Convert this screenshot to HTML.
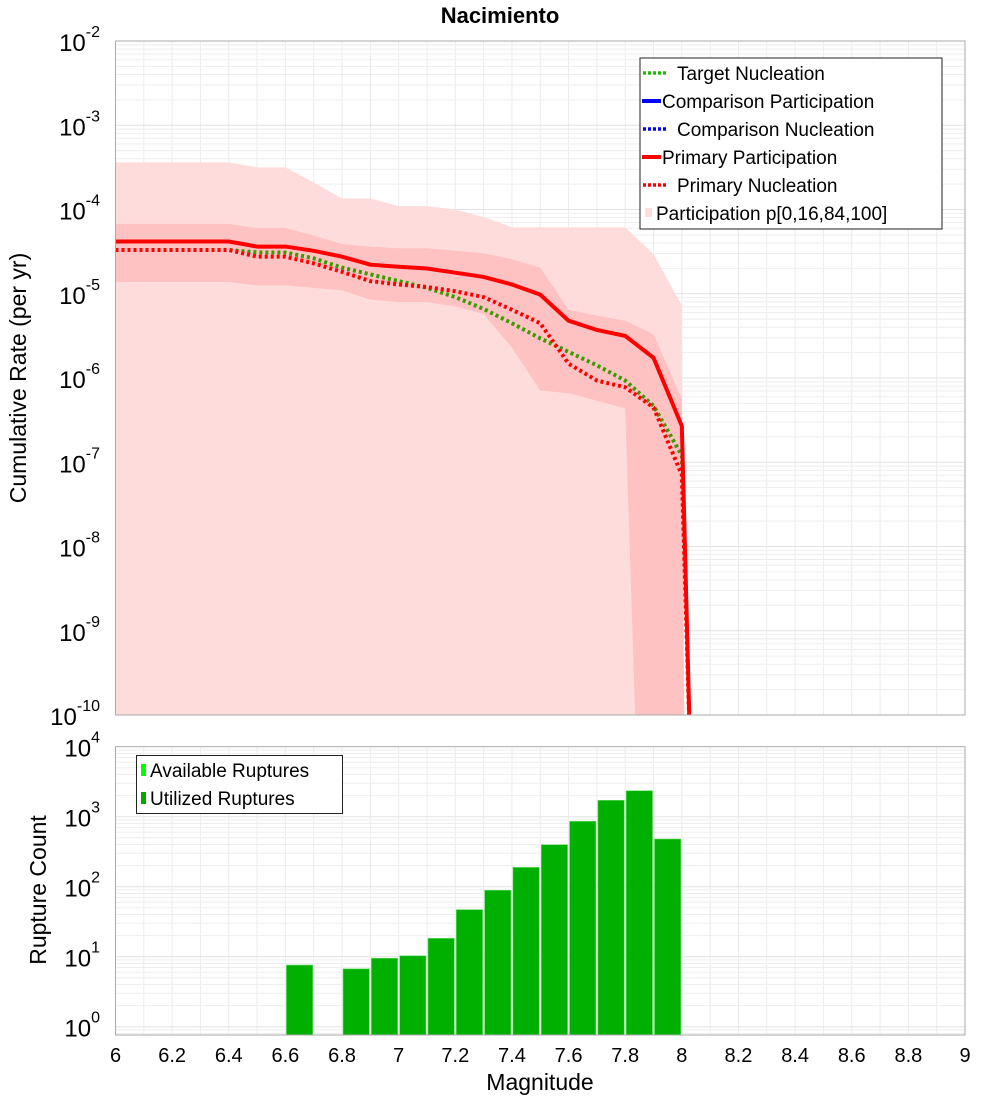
<!DOCTYPE html>
<html><head><meta charset="utf-8"><style>
body{margin:0;background:#fff;}
svg{display:block;font-family:"Liberation Sans","DejaVu Sans",sans-serif;}
</style></head><body>
<svg id="chart" width="1000" height="1100" viewBox="0 0 1000 1100" xmlns="http://www.w3.org/2000/svg">
<text x="500" y="23" text-anchor="middle" font-size="22" font-weight="bold">Nacimiento</text>
<g id="topg"></g>
<g id="botg"></g>
<text transform="translate(26,378) rotate(-90)" text-anchor="middle" font-size="23">Cumulative Rate (per yr)</text>
<text transform="translate(46,890) rotate(-90)" text-anchor="middle" font-size="23">Rupture Count</text>
<text x="540" y="1090" text-anchor="middle" font-size="23">Magnitude</text>
</svg>
<script>
// ---- data ----
const primaryPartMags = [6.0,6.4,6.5,6.6,6.7,6.8,6.9,7.0,7.1,7.2,7.3,7.4,7.5,7.6,7.7,7.8,7.9,8.0,8.03];
const primaryPartLog = [-4.38,-4.38,-4.44,-4.44,-4.49,-4.56,-4.655,-4.68,-4.70,-4.75,-4.80,-4.89,-5.01,-5.32,-5.43,-5.50,-5.76,-6.57,-10.5];
const primaryNuclMags = [6.0,6.4,6.5,6.6,6.7,6.8,6.9,7.0,7.1,7.2,7.3,7.4,7.5,7.6,7.7,7.8,7.9,8.0,8.03];
const primaryNuclLog = [-4.48,-4.48,-4.56,-4.56,-4.64,-4.74,-4.85,-4.89,-4.92,-4.97,-5.04,-5.19,-5.35,-5.83,-6.03,-6.11,-6.35,-7.15,-10.5];
const targetNuclMags = [6.0,6.4,6.5,6.6,6.7,6.8,6.9,7.0,7.1,7.2,7.3,7.4,7.5,7.6,7.7,7.8,7.9,8.0,8.03];
const targetNuclLog = [-4.48,-4.48,-4.51,-4.51,-4.58,-4.69,-4.77,-4.85,-4.93,-5.04,-5.18,-5.35,-5.53,-5.69,-5.85,-6.03,-6.33,-6.92,-10.5];
const outerMags = [6.0,6.4,6.5,6.6,6.7,6.8,6.9,7.0,7.1,7.2,7.3,7.4,7.5,7.6,7.7,7.8,7.9,8.0,8.005];
const outerHighLog = [-3.44,-3.44,-3.50,-3.50,-3.68,-3.87,-3.87,-3.96,-3.96,-4.00,-4.09,-4.21,-4.21,-4.21,-4.21,-4.21,-4.53,-5.14,-10.5];
const innerHighMags = [6.0,6.4,6.5,6.6,6.7,6.8,6.9,7.0,7.1,7.2,7.3,7.4,7.5,7.6,7.7,7.8,7.9,8.0,8.01];
const innerHighLog = [-4.17,-4.17,-4.22,-4.22,-4.31,-4.41,-4.44,-4.46,-4.46,-4.49,-4.52,-4.59,-4.69,-5.19,-5.26,-5.32,-5.48,-6.25,-10.5];
const innerLowMags = [6.0,6.4,6.5,6.6,6.7,6.8,6.9,7.0,7.1,7.2,7.3,7.4,7.5,7.6,7.7,7.8,7.84];
const innerLowLog = [-4.86,-4.86,-4.90,-4.90,-4.93,-4.96,-5.07,-5.10,-5.10,-5.15,-5.24,-5.64,-6.15,-6.18,-6.27,-6.36,-10.5];
const barMags = [6.6,6.8,6.9,7.0,7.1,7.2,7.3,7.4,7.5,7.6,7.7,7.8,7.9];
const barCounts = [7.6,6.7,9.5,10.3,18.3,47,89,189,398,859,1714,2350,480];
const xTicks = [6,6.2,6.4,6.6,6.8,7,7.2,7.4,7.6,7.8,8,8.2,8.4,8.6,8.8,9];
const topYTicks = [-2,-3,-4,-5,-6,-7,-8,-9,-10];
const botYTicks = [0,1,2,3,4];

const NS = "http://www.w3.org/2000/svg";
const L = 115.5, R = 965;
const T1 = 41, B1 = 715, T2 = 746.7, B2 = 1035;
const xS = m => L + (m - 6) / 3 * (R - L);
const yTop = lg => T1 + (-2 - lg) * (B1 - T1) / 8;
const yBot = lg => 1026.7 - lg * 70;
function mk(tag, attrs, parent) { const e = document.createElementNS(NS, tag); for (const k in attrs) e.setAttribute(k, attrs[k]); parent.appendChild(e); return e; }
const topG = document.getElementById('topg'), botG = document.getElementById('botg');

const defs = mk('defs', {}, document.getElementById('chart'));
const c1 = mk('clipPath', {id: 'c1'}, defs); mk('rect', {x: L, y: T1, width: R - L, height: B1 - T1}, c1);
const c2 = mk('clipPath', {id: 'c2'}, defs); mk('rect', {x: L, y: T2, width: R - L, height: B2 - T2}, c2);

function grid(g0, T, B, yf, decades) {
  const g = mk('g', {}, g0);
  
  
  for (let m = 6; m <= 9.001; m += 0.1) {
    mk('line', {x1: xS(m), x2: xS(m), y1: T, y2: B, stroke: '#ececec', 'stroke-width': 1}, g);
  }
  for (const d of decades) for (let k = 1; k <= 9; k++) {
    const y = yf(d + Math.log10(k));
    if (y >= T && y <= B) mk('line', {x1: L, x2: R, y1: y, y2: y, stroke: k === 1 ? '#e2e2e2' : '#eeeeee', 'stroke-width': 1}, g);
  }
}
grid(topG, T1, B1, yTop, [-10,-9,-8,-7,-6,-5,-4,-3]);
grid(botG, T2, B2, yBot, [-1,0,1,2,3]);

function pts(ms, ls) { return ms.map((m, i) => xS(m) + ',' + yTop(ls[i])).join(' '); }
const pg = mk('g', {'clip-path': 'url(#c1)'}, topG);
const outer = mk('polygon', {points: pts(outerMags, outerHighLog) + ' ' + xS(6) + ',' + yTop(-10.5), fill: '#ffdcdc'}, pg);


const revM = innerLowMags.slice().reverse(), revL = innerLowLog.slice().reverse();
const innerPts = pts(innerHighMags, innerHighLog) + ' ' + pts(revM, revL);
const inner = mk('polygon', {points: innerPts, fill: '#ffc2c2'}, pg);


const tn = mk('polyline', {points: pts(targetNuclMags, targetNuclLog), fill: 'none', stroke: '#3a9a00', 'stroke-width': 4, 'stroke-dasharray': '3,3'}, pg);


const pn = mk('polyline', {points: pts(primaryNuclMags, primaryNuclLog), fill: 'none', stroke: '#ff0000', 'stroke-width': 4, 'stroke-dasharray': '3,3'}, pg);


const pp = mk('polyline', {points: pts(primaryPartMags, primaryPartLog), fill: 'none', stroke: '#ff0000', 'stroke-width': 4}, pg);



const bg = mk('g', {'clip-path': 'url(#c2)'}, botG);
barMags.forEach((m, i) => {
  const y = yBot(Math.log10(barCounts[i]));
  const r = mk('rect', {x: xS(m) + 1, y: y, width: xS(m + 0.1) - xS(m) - 2, height: B2 - y, fill: '#00b000', stroke: '#66dd66', 'stroke-width': 0.6}, bg);
  
  
});

[[T1, B1, topG], [T2, B2, botG]].forEach(([T, B, p]) => {
  const f = mk('rect', {x: L, y: T, width: R - L, height: B - T, fill: 'none', stroke: '#aaaaaa', 'stroke-width': 1}, p);
  
  
});

function yLabel(g0, y, exp) {
  const t = mk('text', {x: 100, y: y + 10, 'text-anchor': 'end', 'font-size': 24}, g0);
  
  
  t.appendChild(document.createTextNode('10'));
  const s = mk('tspan', {dy: -14, 'font-size': 16}, t);
  s.textContent = String(exp);
}
topYTicks.forEach(e => yLabel(topG, yTop(e), e));
botYTicks.forEach(e => yLabel(botG, yBot(e), e));
xTicks.forEach(m => {
  const t = mk('text', {x: xS(m), y: 1062, 'text-anchor': 'middle', 'font-size': 20}, botG);
  
  
  t.textContent = String(m);
});

const lg = mk('g', {}, topG);


mk('rect', {x: 640, y: 58, width: 302, height: 171, fill: '#fff', stroke: '#222', 'stroke-width': 1}, lg);
const items = [
  ['Target Nucleation', '#22bb00', true], ['Comparison Participation', '#0000ff', false],
  ['Comparison Nucleation', '#0000ff', true], ['Primary Participation', '#ff0000', false],
  ['Primary Nucleation', '#ff0000', true], ['Participation p[0,16,84,100]', null, false]];
items.forEach((it, i) => {
  const y = 73 + i * 28;
  const g = mk('g', {}, lg);
  
  
  let tx = 662;
  if (it[1] === null) { mk('rect', {x: 645, y: y - 5, width: 7, height: 9, fill: '#ffdcdc'}, g); tx = 656; }
  else if (it[2]) { mk('line', {x1: 643, x2: 668, y1: y, y2: y, stroke: it[1], 'stroke-width': 3.5, 'stroke-dasharray': '3,2'}, g); tx = 677; }
  else mk('line', {x1: 642, x2: 661, y1: y, y2: y, stroke: it[1], 'stroke-width': 4}, g);
  const t = mk('text', {x: tx, y: y + 7, 'font-size': 19}, g);
  t.textContent = it[0];
});

const lb = mk('g', {}, botG);


mk('rect', {x: 136.5, y: 755.5, width: 206, height: 58, fill: '#fff', stroke: '#222', 'stroke-width': 1}, lb);
[['Available Ruptures', '#00ff00'], ['Utilized Ruptures', '#00aa00']].forEach((it, i) => {
  const y = 770 + i * 28;
  const g = mk('g', {}, lb);
  
  
  mk('rect', {x: 141, y: y - 6, width: 5, height: 12, fill: it[1]}, g);
  const t = mk('text', {x: 150, y: y + 7, 'font-size': 19}, g);
  t.textContent = it[0];
});
</script>
</body></html>
